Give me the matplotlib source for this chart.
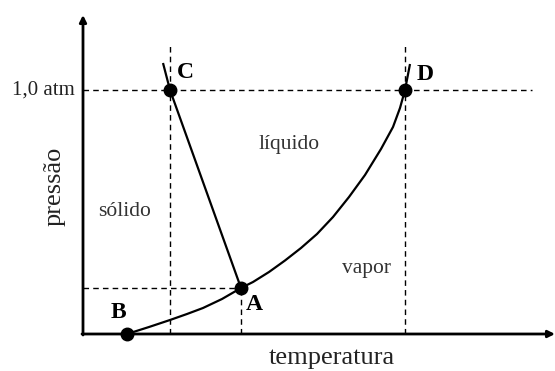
import matplotlib
matplotlib.use("Agg")
import matplotlib.pyplot as plt

plt.rcParams['font.family'] = ['Liberation Serif', 'DejaVu Serif']

# Data in arbitrary temperature / pressure units
# sublimation + vaporization curve: B -> A -> D (and short extension)
curve_T = [44, 66, 87, 104, 120, 139, 158, 170, 186, 202, 218, 234, 250, 266, 282, 298, 310, 317, 322, 327]
curve_P = [0, 7, 14, 20, 26, 35, 46, 52, 62, 73.5, 86, 100, 117, 137, 159, 185, 207, 226, 244, 270]
# fusion line: extension above C -> C -> A
fusion_T = [80, 87, 158]
fusion_P = [271, 244, 46]

point_names = ['A', 'B', 'C', 'D']
point_T = [158, 44, 87, 322]
point_P = [46, 0, 244, 244]

p_atm = 244
atm_label = '1,0 atm'
x_label = 'temperatura'
y_label = 'pressão'
regions = ['sólido', 'líquido', 'vapor']
region_T = [42, 206, 284]
region_P = [122, 190, 66]

T_max, P_max = 472, 319

fig = plt.figure(figsize=(5.55, 3.71), dpi=100)
ax = fig.add_axes([83 / 555, 37 / 371, 472 / 555, 319 / 371])
ax.set_xlim(0, T_max)
ax.set_ylim(0, P_max)
ax.axis('off')

# axes with arrows
ax.annotate('', xy=(T_max, 0), xytext=(-1, 0), annotation_clip=False,
            arrowprops=dict(arrowstyle='-|>', lw=2.0, color='black', mutation_scale=10, shrinkA=0, shrinkB=0))
ax.annotate('', xy=(0, P_max), xytext=(0, -1), annotation_clip=False,
            arrowprops=dict(arrowstyle='-|>', lw=2.0, color='black', mutation_scale=10, shrinkA=0, shrinkB=0))

dash = dict(color='black', lw=1.0, ls=(0, (4, 3)))
# horizontal 1 atm line
ax.plot([0, 449], [p_atm, p_atm], **dash)
# vertical lines through C and D
ax.plot([point_T[2], point_T[2]], [0, 289], **dash)
ax.plot([point_T[3], point_T[3]], [0, 291], **dash)
# dashed lines to A
ax.plot([0, point_T[0]], [point_P[0], point_P[0]], **dash)
ax.plot([point_T[0], point_T[0]], [0, point_P[0]], **dash)

ax.plot(curve_T, curve_P, color='black', lw=1.6, solid_capstyle='butt', solid_joinstyle='round')
ax.plot(fusion_T, fusion_P, color='black', lw=1.6, solid_capstyle='butt')

ax.plot(point_T, point_P, 'o', color='black', ms=9, clip_on=False, zorder=5)

label_off = {'A': (13, -17), 'B': (-9, 21), 'C': (15, 17), 'D': (20, 15)}
for n, t, p in zip(point_names, point_T, point_P):
    dx, dy = label_off[n]
    ax.text(t + dx, p + dy, n, fontsize=17, fontweight='bold', ha='center', va='center')

for r, t, p in zip(regions, region_T, region_P):
    ax.text(t, p, r, fontsize=15.5, ha='center', va='center', color='#333333')

ax.text(-8, p_atm, atm_label, fontsize=15, ha='right', va='center', color='#222222')
ax.text(249, -24, x_label, fontsize=19, ha='center', va='center', color='#222222')
ax.text(-28, 148, y_label, fontsize=19, ha='center', va='center', rotation=90, color='#222222')

fig.savefig('out.png', dpi=100)
